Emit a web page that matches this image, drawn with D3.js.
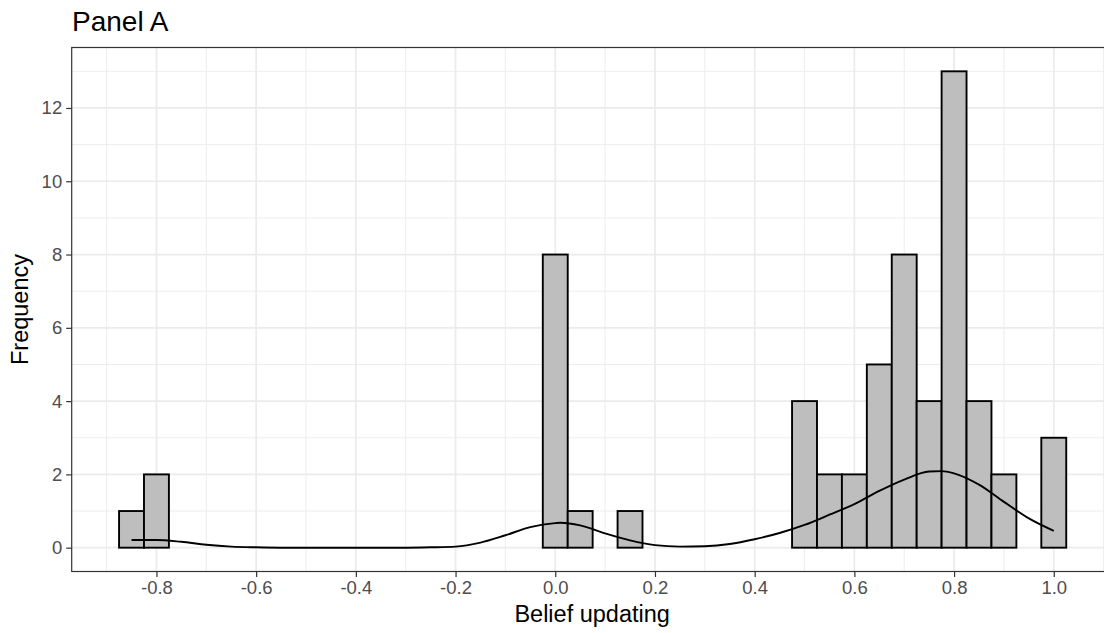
<!DOCTYPE html>
<html>
<head>
<meta charset="utf-8">
<script src="https://cdn.jsdelivr.net/npm/d3@7"></script>
<style>
  html, body { margin: 0; padding: 0; background: #fff; }
  svg { display: block; font-family: "Liberation Sans", Arial, Helvetica, sans-serif; }
</style>
</head>
<body>
<svg id="chart" width="1104" height="633"></svg>
<script>
// ---- data ----
const binCenters = [-0.85, -0.80, -0.75, -0.70, -0.65, -0.60, -0.55, -0.50, -0.45, -0.40,
                    -0.35, -0.30, -0.25, -0.20, -0.15, -0.10, -0.05, 0.00, 0.05, 0.10,
                     0.15, 0.20, 0.25, 0.30, 0.35, 0.40, 0.45, 0.50, 0.55, 0.60,
                     0.65, 0.70, 0.75, 0.80, 0.85, 0.90, 0.95, 1.00];
const binCounts  = [1, 2, 0, 0, 0, 0, 0, 0, 0, 0,
                    0, 0, 0, 0, 0, 0, 0, 8, 1, 0,
                    1, 0, 0, 0, 0, 0, 0, 4, 2, 2,
                    5, 8, 4, 13, 4, 2, 0, 3];
const binWidth = 0.05;

const densityX = [-0.85, -0.80, -0.75, -0.70, -0.65, -0.60, -0.55, -0.50, -0.40, -0.30,
                  -0.25, -0.20, -0.15, -0.10, -0.05, 0.00, 0.01, 0.05, 0.10, 0.15,
                   0.20, 0.25, 0.30, 0.35, 0.40, 0.45, 0.50, 0.55, 0.60, 0.65,
                   0.70, 0.75, 0.775, 0.80, 0.85, 0.90, 0.95, 1.00];
const densityY = [0.21, 0.21, 0.16, 0.08, 0.03, 0.01, 0.00, 0.00, 0.00, 0.00,
                  0.01, 0.03, 0.14, 0.34, 0.56, 0.67, 0.68, 0.61, 0.39, 0.20,
                  0.07, 0.03, 0.04, 0.10, 0.23, 0.40, 0.62, 0.90, 1.19, 1.55,
                  1.86, 2.08, 2.09, 2.03, 1.72, 1.25, 0.80, 0.46];

const xTicks = [-0.8, -0.6, -0.4, -0.2, 0.0, 0.2, 0.4, 0.6, 0.8, 1.0];
const xTickLabels = ["-0.8", "-0.6", "-0.4", "-0.2", "0.0", "0.2", "0.4", "0.6", "0.8", "1.0"];
const xMinor = [-0.9, -0.7, -0.5, -0.3, -0.1, 0.1, 0.3, 0.5, 0.7, 0.9, 1.1];
const yTicks = [0, 2, 4, 6, 8, 10, 12];
const yMinor = [1, 3, 5, 7, 9, 11, 13];

const title = "Panel A";
const xTitle = "Belief updating";
const yTitle = "Frequency";

// ---- layout ----
const panel = { left: 71.7, right: 1113.6, top: 47.5, bottom: 571.5 };
const svg = d3.select("#chart");

const x = d3.scaleLinear().domain([-0.97, 1.12]).range([panel.left, panel.right]);
const y = d3.scaleLinear().domain([-0.65, 13.65]).range([panel.bottom, panel.top]);

// panel background
svg.append("rect")
  .attr("x", panel.left).attr("y", panel.top)
  .attr("width", panel.right - panel.left).attr("height", panel.bottom - panel.top)
  .attr("fill", "#fff");

const grid = svg.append("g");
// minor grid
grid.selectAll(".xm").data(xMinor).join("line")
  .attr("x1", d => x(d)).attr("x2", d => x(d))
  .attr("y1", panel.top).attr("y2", panel.bottom)
  .attr("stroke", "#EBEBEB").attr("stroke-width", 0.9);
grid.selectAll(".ym").data(yMinor).join("line")
  .attr("x1", panel.left).attr("x2", panel.right)
  .attr("y1", d => y(d)).attr("y2", d => y(d))
  .attr("stroke", "#EBEBEB").attr("stroke-width", 0.9);
// major grid
grid.selectAll(".xM").data(xTicks).join("line")
  .attr("x1", d => x(d)).attr("x2", d => x(d))
  .attr("y1", panel.top).attr("y2", panel.bottom)
  .attr("stroke", "#EBEBEB").attr("stroke-width", 1.7);
grid.selectAll(".yM").data(yTicks).join("line")
  .attr("x1", panel.left).attr("x2", panel.right)
  .attr("y1", d => y(d)).attr("y2", d => y(d))
  .attr("stroke", "#EBEBEB").attr("stroke-width", 1.7);

// histogram bars
const bins = binCenters.map((c, i) => ({ c, n: binCounts[i] }));
svg.append("g").selectAll("rect").data(bins).join("rect")
  .attr("x", d => x(d.c - binWidth / 2))
  .attr("width", d => x(d.c + binWidth / 2) - x(d.c - binWidth / 2))
  .attr("y", d => y(d.n))
  .attr("height", d => y(0) - y(d.n))
  .attr("fill", "#BEBEBE")
  .attr("stroke", "#000")
  .attr("stroke-width", 1.9);

// density line
const dens = densityX.map((v, i) => [v, densityY[i]]);
svg.append("path")
  .datum(dens)
  .attr("fill", "none")
  .attr("stroke", "#000")
  .attr("stroke-width", 1.9)
  .attr("d", d3.line().x(d => x(d[0])).y(d => y(d[1])).curve(d3.curveMonotoneX));

// panel border
svg.append("rect")
  .attr("x", panel.left).attr("y", panel.top)
  .attr("width", panel.right - panel.left).attr("height", panel.bottom - panel.top)
  .attr("fill", "none").attr("stroke", "#333333").attr("stroke-width", 1.2);

// axes
const xAxis = d3.axisBottom(x).tickValues(xTicks)
  .tickFormat((d, i) => xTickLabels[i]).tickSize(5.5).tickPadding(3.5);
const gx = svg.append("g").attr("transform", `translate(0,${panel.bottom})`).call(xAxis);
gx.select(".domain").remove();
gx.selectAll(".tick line").attr("stroke", "#333333").attr("stroke-width", 1.2);
gx.selectAll(".tick text").attr("fill", "#4D4D4D")
  .style("font-size", "18.5px").style("font-family", "Liberation Sans, Arial, sans-serif");

const yAxis = d3.axisLeft(y).tickValues(yTicks).tickFormat(d3.format("d")).tickSize(5.5).tickPadding(4);
const gy = svg.append("g").attr("transform", `translate(${panel.left},0)`).call(yAxis);
gy.select(".domain").remove();
gy.selectAll(".tick line").attr("stroke", "#333333").attr("stroke-width", 1.2);
gy.selectAll(".tick text").attr("fill", "#4D4D4D")
  .style("font-size", "18.5px").style("font-family", "Liberation Sans, Arial, sans-serif");

// titles
svg.append("text")
  .attr("x", 72).attr("y", 30.7)
  .attr("fill", "#000")
  .style("font-size", "28px")
  .text(title);

svg.append("text")
  .attr("x", (panel.left + panel.right) / 2 - 0.5).attr("y", 622)
  .attr("text-anchor", "middle")
  .attr("fill", "#000")
  .style("font-size", "23.5px")
  .text(xTitle);

svg.append("text")
  .attr("transform", `translate(27.5,${(panel.top + panel.bottom) / 2}) rotate(-90)`)
  .attr("text-anchor", "middle")
  .attr("fill", "#000")
  .style("font-size", "23.5px")
  .text(yTitle);
</script>
</body>
</html>
